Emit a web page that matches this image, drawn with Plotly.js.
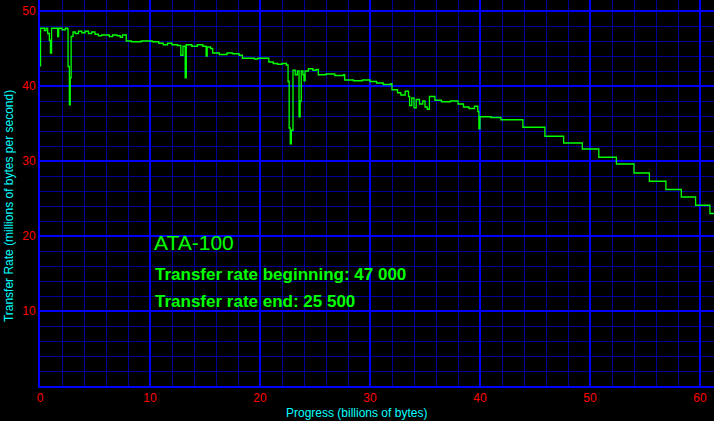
<!DOCTYPE html>
<html>
<head>
<meta charset="utf-8">
<script src="https://cdn.plot.ly/plotly-3.0.1.min.js"></script>
<style>
  html, body { margin: 0; padding: 0; background: #000; }
  #chart { width: 714px; height: 421px; }
</style>
</head>
<body>
<div id="chart"></div>
<script>
// progress in billions of bytes
var progress = [
  0.0, 0.05, 0.3, 0.4, 0.55, 0.7, 0.85, 0.95, 1.05, 1.5, 1.6, 1.7, 2.0, 2.3, 2.5,
  2.55, 2.67, 2.75, 2.83, 3.0, 3.2, 3.5, 3.8, 4.1, 4.4, 4.7, 5.0, 5.3, 5.6, 6.0,
  6.3, 6.6, 7.0, 7.3, 7.5, 7.84, 8.3, 9.2, 9.8, 10.2, 10.8, 11.2, 11.6, 12.0, 12.5,
  12.8, 13.0, 13.2, 13.3, 13.8, 14.3, 14.8, 15.1, 15.2, 15.5, 15.7, 16.3, 17.0, 17.5, 18.1,
  18.4, 19.5, 19.8, 20.6, 20.8, 21.2, 21.6, 22.0, 22.4, 22.55, 22.65, 22.75, 22.85, 23.0, 23.2,
  23.4, 23.55, 23.65, 23.75, 23.9, 24.0, 24.1, 24.4, 24.8, 25.1, 25.3, 26.0, 26.8, 27.6, 27.7,
  28.5, 29.3, 30.0, 30.6, 31.2, 31.9, 32.0, 32.5, 32.8, 33.2, 33.5, 33.6, 33.8, 34.0, 34.2,
  34.5, 34.8, 35.0, 35.2, 35.4, 35.8, 35.9, 36.5, 37.3, 38.0, 38.5, 39.0, 39.5, 39.8, 39.9,
  40.0, 40.5, 41.0, 41.9, 43.9, 45.9, 47.6, 49.3, 50.8, 52.4, 54.0, 55.4, 56.9, 58.3, 59.6,
  60.9, 61.3
];
// transfer rate in millions of bytes per second
var rate = [
  42.7, 47.7, 47.7, 47.4, 47.7, 47.0, 46.1, 44.4, 47.7, 47.7, 46.6, 47.7, 47.5, 47.7, 47.6,
  42.6, 37.5, 41.1, 46.6, 47.2, 47.0, 47.3, 47.1, 47.3, 47.0, 47.2, 46.9, 46.7, 46.8, 46.8,
  46.6, 46.8, 46.7, 46.5, 46.8, 46.0, 45.9, 46.0, 46.0, 45.9, 45.7, 45.5, 45.7, 45.5, 45.4,
  44.1, 45.3, 41.1, 45.5, 45.3, 45.5, 45.3, 44.0, 45.2, 45.0, 44.4, 44.2, 44.4, 44.3, 44.1,
  43.7, 43.6, 43.7, 43.7, 43.2, 43.0, 42.9, 43.0, 42.8, 40.6, 34.4, 32.3, 34.1, 42.1, 41.5,
  42.0, 35.9, 38.0, 42.0, 41.5, 40.7, 42.0, 42.3, 42.1, 42.2, 41.5, 41.6, 41.4, 41.5, 40.8,
  40.7, 40.8, 40.6, 40.4, 40.2, 40.3, 39.5, 39.1, 38.8, 39.3, 38.6, 37.4, 38.4, 37.1, 38.2,
  37.6, 38.0, 37.2, 36.9, 38.6, 38.6, 38.1, 37.9, 38.0, 37.6, 37.2, 37.0, 37.3, 36.6, 34.3,
  35.9, 35.9, 35.8, 35.5, 34.5, 33.3, 32.4, 31.6, 30.5, 29.6, 28.4, 27.3, 26.2, 25.2, 24.1,
  23.0, 23.0
];
var xTicks = [0, 10, 20, 30, 40, 50, 60];
var yTicks = [10, 20, 30, 40, 50];

var chart = document.getElementById('chart');

var trace1 = {
  type: 'scatter',
  mode: 'lines',
  x: progress,
  y: rate,
  line: {color: '#00ff00', width: 1.3, shape: 'hv'},
  hoverinfo: 'skip',
  showlegend: false
};
// empty trace so the labelled (major) axes get drawn
var trace2 = {type: 'scatter', mode: 'lines', x: [], y: [], xaxis: 'x2', yaxis: 'y2', showlegend: false};

var green = '#00ff00';
// 11 px per unit on x, 7.5 px per unit on y, so grid lines land on whole pixels
var xRange = [0, 674 / 11];
var yRange = [0, 386 / 7.5];
var layout = {
  width: 714,
  height: 421,
  paper_bgcolor: '#000000',
  plot_bgcolor: '#000000',
  margin: {l: 40, r: 0, t: 0, b: 35},
  font: {family: 'Arial, "Liberation Sans", sans-serif'},
  xaxis: {
    range: xRange, tickmode: 'linear', tick0: 0, dtick: 2,
    showticklabels: false, ticks: '',
    showgrid: true, gridcolor: '#00009a', gridwidth: 1,
    zeroline: false, showline: false, fixedrange: true
  },
  yaxis: {
    range: yRange, tickmode: 'linear', tick0: 0, dtick: 2,
    showticklabels: false, ticks: '',
    showgrid: true, gridcolor: '#00009a', gridwidth: 1,
    zeroline: false, showline: false, fixedrange: true
  },
  xaxis2: {
    overlaying: 'x', side: 'bottom', anchor: 'y2',
    range: xRange, tickmode: 'array', tickvals: xTicks, ticks: '',
    tickfont: {color: '#ff0000', size: 12},
    showgrid: true, gridcolor: '#0000ff', gridwidth: 1.5,
    zeroline: false, showline: true, linecolor: '#0000ff', linewidth: 2, fixedrange: true
  },
  yaxis2: {
    overlaying: 'y', side: 'left', anchor: 'x2',
    range: yRange, tickmode: 'array', tickvals: yTicks, ticks: '',
    tickfont: {color: '#ff0000', size: 12},
    showgrid: true, gridcolor: '#0000ff', gridwidth: 1.5,
    zeroline: false, showline: true, linecolor: '#0000ff', linewidth: 2, fixedrange: true
  },
  annotations: [
    {xref: 'paper', yref: 'paper', x: 0.469, y: -0.07, xanchor: 'center', yanchor: 'middle',
     text: 'Progress (billions of bytes)', showarrow: false, font: {color: '#00ffff', size: 12}},
    {xref: 'paper', yref: 'paper', x: -0.046, y: 0.466, xanchor: 'center', yanchor: 'middle', textangle: -90,
     text: 'Transfer Rate (millions of bytes per second)', showarrow: false, font: {color: '#00ffff', size: 12}},
    {x: 10.2, y: 19.1, xanchor: 'left', yanchor: 'middle', text: 'ATA-100', showarrow: false,
     font: {color: green, size: 21}},
    {x: 10.25, y: 14.9, xanchor: 'left', yanchor: 'middle', text: '<b>Transfer rate beginning: 47 000</b>', showarrow: false,
     font: {color: green, size: 17}},
    {x: 10.25, y: 11.3, xanchor: 'left', yanchor: 'middle', text: '<b>Transfer rate end: 25 500</b>', showarrow: false,
     font: {color: green, size: 17}}
  ]
};

Plotly.newPlot(chart, [trace1, trace2], layout, {displayModeBar: false, staticPlot: true});
</script>
</body>
</html>
